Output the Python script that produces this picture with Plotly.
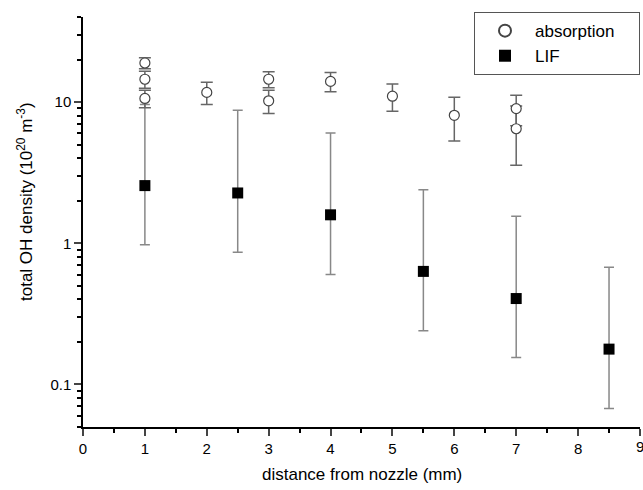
import plotly.graph_objects as go

# absorption data (open circles)
abs_x = [1, 1, 1, 2, 3, 3, 4, 5, 6, 7, 7]
abs_y = [18.9, 14.5, 10.6, 11.7, 14.5, 10.2, 14.0, 11.0, 8.05, 8.98, 6.47]
abs_err = [1.7, 2.0, 1.5, 2.1, 1.9, 1.9, 2.2, 2.4, 2.75, 2.2, 2.9]

# LIF data (filled squares)
lif_x = [1, 2.5, 4, 5.5, 7, 8.5]
lif_y = [2.56, 2.27, 1.59, 0.632, 0.406, 0.178]
lif_up = [9.6, 8.73, 6.03, 2.39, 1.55, 0.676]
lif_lo = [0.975, 0.863, 0.60, 0.240, 0.155, 0.0676]

x_ticks = list(range(0, 10))
y_ticks = [0.1, 1, 10]
y_ticktext = ["0.1", "1", "10"]

lif_plus = [u - v for u, v in zip(lif_up, lif_y)]
lif_minus = [v - l for v, l in zip(lif_y, lif_lo)]

minor_y = []
for dec in [0.01, 0.1, 1, 10]:
    for m in range(2, 10):
        val = round(m * dec, 4)
        if 0.05 <= val <= 40:
            minor_y.append(val)

fig = go.Figure()
fig.add_trace(go.Scatter(
    x=lif_x, y=lif_y, mode="markers", name="LIF",
    marker=dict(symbol="square", size=11, color="black"),
    error_y=dict(type="data", symmetric=False, array=lif_plus, arrayminus=lif_minus,
                 color="#888888", thickness=1.5, width=5),
    legendrank=2,
))
fig.add_trace(go.Scatter(
    x=abs_x, y=abs_y, mode="markers", name="absorption\u00a0\u00a0\u00a0\u00a0",
    marker=dict(symbol="circle", size=10, color="white", line=dict(color="#444444", width=1.2)),
    error_y=dict(type="data", array=abs_err, color="#666666", thickness=1.5, width=6),
    legendrank=1,
))

fig.update_layout(
    width=643, height=490,
    margin=dict(l=83, r=3, t=17, b=63),
    paper_bgcolor="white", plot_bgcolor="white",
    font=dict(family="Liberation Sans, Arial, sans-serif", size=15, color="black"),
    showlegend=True,
    legend=dict(x=1, xanchor="right", y=1.012, yanchor="top",
                bordercolor="#555555", borderwidth=1, bgcolor="white",
                font=dict(size=17), itemsizing="constant", itemwidth=50),
    xaxis=dict(range=[0, 9.0005], tickvals=x_ticks, ticks="outside", ticklen=7, tickwidth=1.5,
               showline=True, linecolor="black", linewidth=1.5, showgrid=False, zeroline=False,
               minor=dict(dtick=0.5, tick0=0, ticks="outside", ticklen=4, tickwidth=1.5, tickcolor="black"),
               tickfont=dict(size=15)),
    yaxis=dict(type="log", range=[-1.301, 1.602], tickvals=y_ticks, ticktext=y_ticktext,
               ticks="outside", ticklen=7, tickwidth=1.5,
               showline=True, linecolor="black", linewidth=1.5, showgrid=False, zeroline=False,
               minor=dict(tickvals=minor_y, ticks="outside", ticklen=4, tickwidth=1.5, tickcolor="black"),
               tickfont=dict(size=15)),
    annotations=[
        dict(text="9", xref="x", yref="paper", x=9, y=0, xanchor="center", yanchor="top",
             yshift=-9, showarrow=False, font=dict(size=15)),
        dict(text="distance from nozzle (mm)", xref="paper", yref="paper",
             x=0.5, y=0, xanchor="center", yanchor="middle", yshift=-47, showarrow=False,
             font=dict(size=17)),
        dict(text="total OH density (10<sup>20</sup> m<sup>-3</sup>)", xref="paper", yref="paper",
             x=0, y=0.5, xanchor="center", yanchor="middle", xshift=-58, yshift=20,
             showarrow=False, textangle=-90, font=dict(size=17)),
    ],
)

fig.write_html("out.html")
